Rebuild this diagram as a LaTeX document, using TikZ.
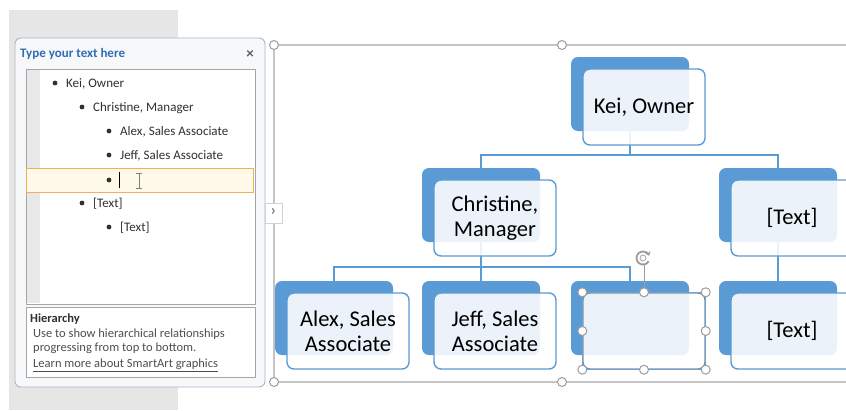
\documentclass[tikz,border=0pt]{standalone}
\usepackage{fontspec}
\setmainfont{Carlito}
\usetikzlibrary{arrows.meta}
\definecolor{sablue}{HTML}{5B9BD5}
\definecolor{framegray}{HTML}{C4C4C4}
\definecolor{hgray}{HTML}{9C9C9C}
\definecolor{bggray}{HTML}{E6E6E6}
\definecolor{titleblue}{HTML}{2F6EB5}
\definecolor{txt}{HTML}{303030}
\definecolor{seltone}{HTML}{8A9AAE}
\definecolor{paneborder}{HTML}{A9B7C6}
\definecolor{panefill}{HTML}{F7F8FA}
\definecolor{hiborder}{HTML}{F0B050}
\definecolor{hifill}{HTML}{FFF9EA}
\tikzset{
  backbox/.style={draw=none, fill=sablue, rounded corners=7pt, minimum width=118pt, minimum height=74pt, inner sep=0pt},
  frontbox/.style={draw=sablue, line width=1.4pt, fill=white, fill opacity=0.88, text opacity=1, rounded corners=7pt,
    minimum width=122pt, minimum height=76pt, inner sep=0pt, align=center, text=black,
    font=\fontsize{22.5}{25}\selectfont},
  conn/.style={draw=sablue, line width=1.4pt},
  handle/.style={draw=hgray, fill=white, line width=1pt},
  listtext/.style={anchor=mid west, inner sep=0pt, text=txt, font=\fontsize{13}{15}\selectfont},
  bul/.style={fill=txt},
  desc/.style={anchor=mid west, inner sep=0pt, text=txt!85, font=\fontsize{12.5}{14}\selectfont},
}
\begin{document}
\begin{tikzpicture}[x=1pt,y=-1pt]
\path[use as bounding box, clip] (0,0) rectangle (846,410);
\fill[white] (0,0) rectangle (846,410);
% left gray background
\fill[bggray] (9,10) rectangle (178,410);
% text pane
\draw[draw=paneborder, fill=panefill, rounded corners=6pt, line width=0.9pt] (15,38) rectangle (265,387);
\node[anchor=mid west, inner sep=0pt, text=titleblue, font=\fontsize{13}{15}\selectfont\bfseries] (title) at (20,55) {Type your text here};
\node[inner sep=0pt, text=txt!80, font=\fontsize{15}{15}\selectfont\bfseries] (closex) at (250,54) {×};
% list box
\draw[draw=gray!70, fill=white, line width=0.8pt] (26,69) rectangle (255,304);
\fill[gray!18] (27,70) rectangle (40,303);
\draw[draw=hiborder, fill=hifill, line width=0.9pt] (26,168) rectangle (253,192);
\fill[bul] (55,83) circle (2.4);
\node[listtext] (l1) at (66,85.5) {Kei, Owner};
\fill[bul] (82,107) circle (2.4);
\node[listtext] (l2) at (93,109.5) {Christine, Manager};
\fill[bul] (109,131) circle (2.4);
\node[listtext] (l3) at (120,133.5) {Alex, Sales Associate};
\fill[bul] (109,155) circle (2.4);
\node[listtext] (l4) at (120,157.5) {Jeff, Sales Associate};
\fill[bul] (109,180) circle (2.4);
\draw[black, line width=0.9pt] (119,172) -- (119,188);
\draw[gray, line width=0.9pt] (139,173) -- (139,188) (136,173) -- (142,173) (136,188) -- (142,188);
\fill[bul] (82,203) circle (2.4);
\node[listtext] (l5) at (93,205.5) {[Text]};
\fill[bul] (109,227) circle (2.4);
\node[listtext] (l6) at (120,229.5) {[Text]};
% description box
\draw[draw=gray!70, fill=white, line width=0.8pt] (26,307) rectangle (255,377);
\node[anchor=mid west, inner sep=0pt, text=txt, font=\fontsize{12.5}{14}\selectfont\bfseries] (hier) at (30,320) {Hierarchy};
\node[desc] (d1) at (33,335) {Use to show hierarchical relationships};
\node[desc] (d2) at (33,349) {progressing from top to bottom.};
\node[desc] (d3) at (33,365) {\underline{Learn more about SmartArt graphics}};
% SmartArt frame
\draw[framegray, line width=1.2pt] (274,382) -- (274,45) -- (860,45);
\draw[framegray, line width=1.2pt] (274,382) -- (860,382);
\draw[handle] (274,45) circle (4.5);
\draw[handle] (562,45) circle (4.5);
\draw[handle] (274,382) circle (4.5);
\draw[handle] (562,382) circle (4.5);
% tab
\draw[draw=gray!35, fill=white, line width=0.8pt] (265,203) rectangle (282,223);
\node[inner sep=0pt, text=gray, font=\fontsize{16}{16}\selectfont\bfseries] (tab) at (273.5,212) {›};
% back boxes
\node[backbox] (kb) at (630,94) {};
\node[backbox] (cb) at (481,205) {};
\node[backbox] (rb2) at (778,205) {};
\node[backbox] (ab) at (334,318) {};
\node[backbox] (jb) at (481,318) {};
\node[backbox] (eb) at (630,318) {};
\node[backbox] (rb3) at (778,318) {};
% connectors
\coordinate (j1) at (630,155);
\coordinate (j2) at (481,267);
\draw[conn] (kb.south) -- (j1);
\draw[conn] (cb.north) |- (j1) -| (rb2.north);
\draw[conn] (cb.south) -- (jb.north);
\draw[conn] (ab.north) |- (j2) -| (eb.north);
\draw[conn] (rb2.south) -- (rb3.north);
% front boxes
\node[frontbox] (kf) at (644,107) {Kei, Owner};
\node[frontbox] (cf) at (495,218) {Christine,\\Manager};
\node[frontbox] (rf2) at (792,218) {[Text]};
\node[frontbox] (af) at (348,331) {Alex, Sales\\Associate};
\node[frontbox] (jf) at (495,331) {Jeff, Sales\\Associate};
\node[frontbox] (ef) at (644,331) {};
\node[frontbox] (rf3) at (792,331) {[Text]};
% selection of empty box
\draw[seltone, line width=1pt] (ef.north west) rectangle (ef.south east);
\draw[hgray, line width=1pt] (ef.north) -- ++(0,-27);
\foreach \a in {north west,north,north east,west,east,south west,south,south east}
  \draw[handle] (ef.\a) circle (4.5);
\draw[hgray, line width=1.8pt, -{Stealth[length=4pt,width=6pt]}] (643,258) ++(30:6.5) arc[start angle=30, end angle=340, radius=6.5];
\draw[hgray, line width=0.7pt] (643,258) circle (3);
\end{tikzpicture}
\end{document}
